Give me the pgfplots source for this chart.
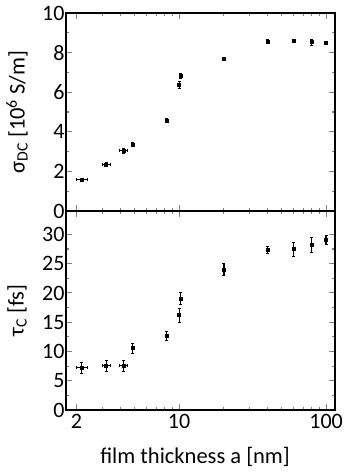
\documentclass[border=0pt]{standalone}
\usepackage{fontspec}
\setmainfont{Carlito}
\usepackage{pgfplots}
\pgfplotsset{compat=1.18}
\begin{document}
\begin{tikzpicture}
\begin{axis}[at={(0,0)}, anchor=south west, height=198pt,
    scale only axis, width=269pt,
    xmode=log, xmin=1.7, xmax=115,
    xtick={2,10,100}, xticklabels={},
    minor xtick={3,4,5,6,7,8,9,20,30,40,50,60,70,80,90},
    tick pos=both, tick align=inside,
    major tick length=6pt, minor tick length=3pt,
    axis line style={line width=1.3pt},
    every tick/.append style={line width=1.1pt},
    tick label style={font=\fontsize{22}{24}\selectfont},
    yticklabel style={xshift=2pt},
    ylabel style={font=\fontsize{22.5}{24}\selectfont, at={(axis description cs:-0.182,0.5)}, anchor=center},
    minor y tick num=1,
  ymin=0, ymax=10, ytick={0,2,4,6,8,10}, yticklabels={0,2,4,6,8,10},
  ylabel={σ\textsubscript{DC} [10\textsuperscript{6} S/m]}]
\addplot[black, only marks, mark=square*, mark size=1.5pt,
  error bars/.cd, y dir=both, y explicit, x dir=both, x explicit,
  error bar style={line width=1.2pt}]
  table[x=x, y=y, x error=ex, y error=ey] {
x y ex ey
2.18 1.58 0.2 0.08
3.19 2.34 0.2 0.1
4.18 3.06 0.25 0.12
};
\addplot[black, only marks, mark=square*, mark size=1.5pt,
  error bars/.cd, y dir=both, y explicit,
  error bar style={line width=1.2pt}]
  table[x=x, y=y, y error=ey] {
x y ey
4.81 3.37 0.1
8.2 4.58 0.12
10.0 6.38 0.18
10.27 6.85 0.12
20.2 7.68 0.08
40 8.57 0.1
60 8.6 0.1
80 8.53 0.14
100 8.48 0.08
};
\end{axis}
\begin{axis}[at={(0,0)}, anchor=north west, height=199pt,
    scale only axis, width=269pt,
    xmode=log, xmin=1.7, xmax=115,
    xtick={2,10,100}, xticklabels={2,10,100},
    minor xtick={3,4,5,6,7,8,9,20,30,40,50,60,70,80,90},
    tick pos=both, tick align=inside,
    major tick length=6pt, minor tick length=3pt,
    axis line style={line width=1.3pt},
    every tick/.append style={line width=1.1pt},
    tick label style={font=\fontsize{22}{24}\selectfont},
    yticklabel style={xshift=2pt},
    xticklabel style={yshift=-1pt},
    ylabel style={font=\fontsize{22.5}{24}\selectfont, at={(axis description cs:-0.182,0.5)}, anchor=center},
    minor y tick num=1,
  ymin=0, ymax=34, ytick={0,5,10,15,20,25,30}, yticklabels={0,5,10,15,20,25,30},
  ylabel={τ\textsubscript{C} [fs]},
  xlabel={film thickness a [nm]},
  xlabel style={font=\fontsize{22.5}{24}\selectfont, at={(axis description cs:0.48,-0.186)}, anchor=north, inner sep=0pt}]
\addplot[black, only marks, mark=square*, mark size=1.5pt,
  error bars/.cd, y dir=both, y explicit, x dir=both, x explicit,
  error bar style={line width=1.2pt}]
  table[x=x, y=y, x error=ex, y error=ey] {
x y ex ey
2.18 7.2 0.2 0.9
3.19 7.55 0.2 1.0
4.18 7.55 0.25 1.0
};
\addplot[black, only marks, mark=square*, mark size=1.5pt,
  error bars/.cd, y dir=both, y explicit,
  error bar style={line width=1.2pt}]
  table[x=x, y=y, y error=ey] {
x y ey
4.81 10.56 0.8
8.2 12.72 0.8
10.0 16.2 1.2
10.27 19.1 1.0
20.2 24.0 1.0
40 27.4 0.6
60 27.5 1.2
80 28.2 1.3
100 29.1 0.8
};
\end{axis}
\pgfresetboundingbox
\path (-66pt,-262pt) rectangle (283pt,211pt);
\end{tikzpicture}
\end{document}
